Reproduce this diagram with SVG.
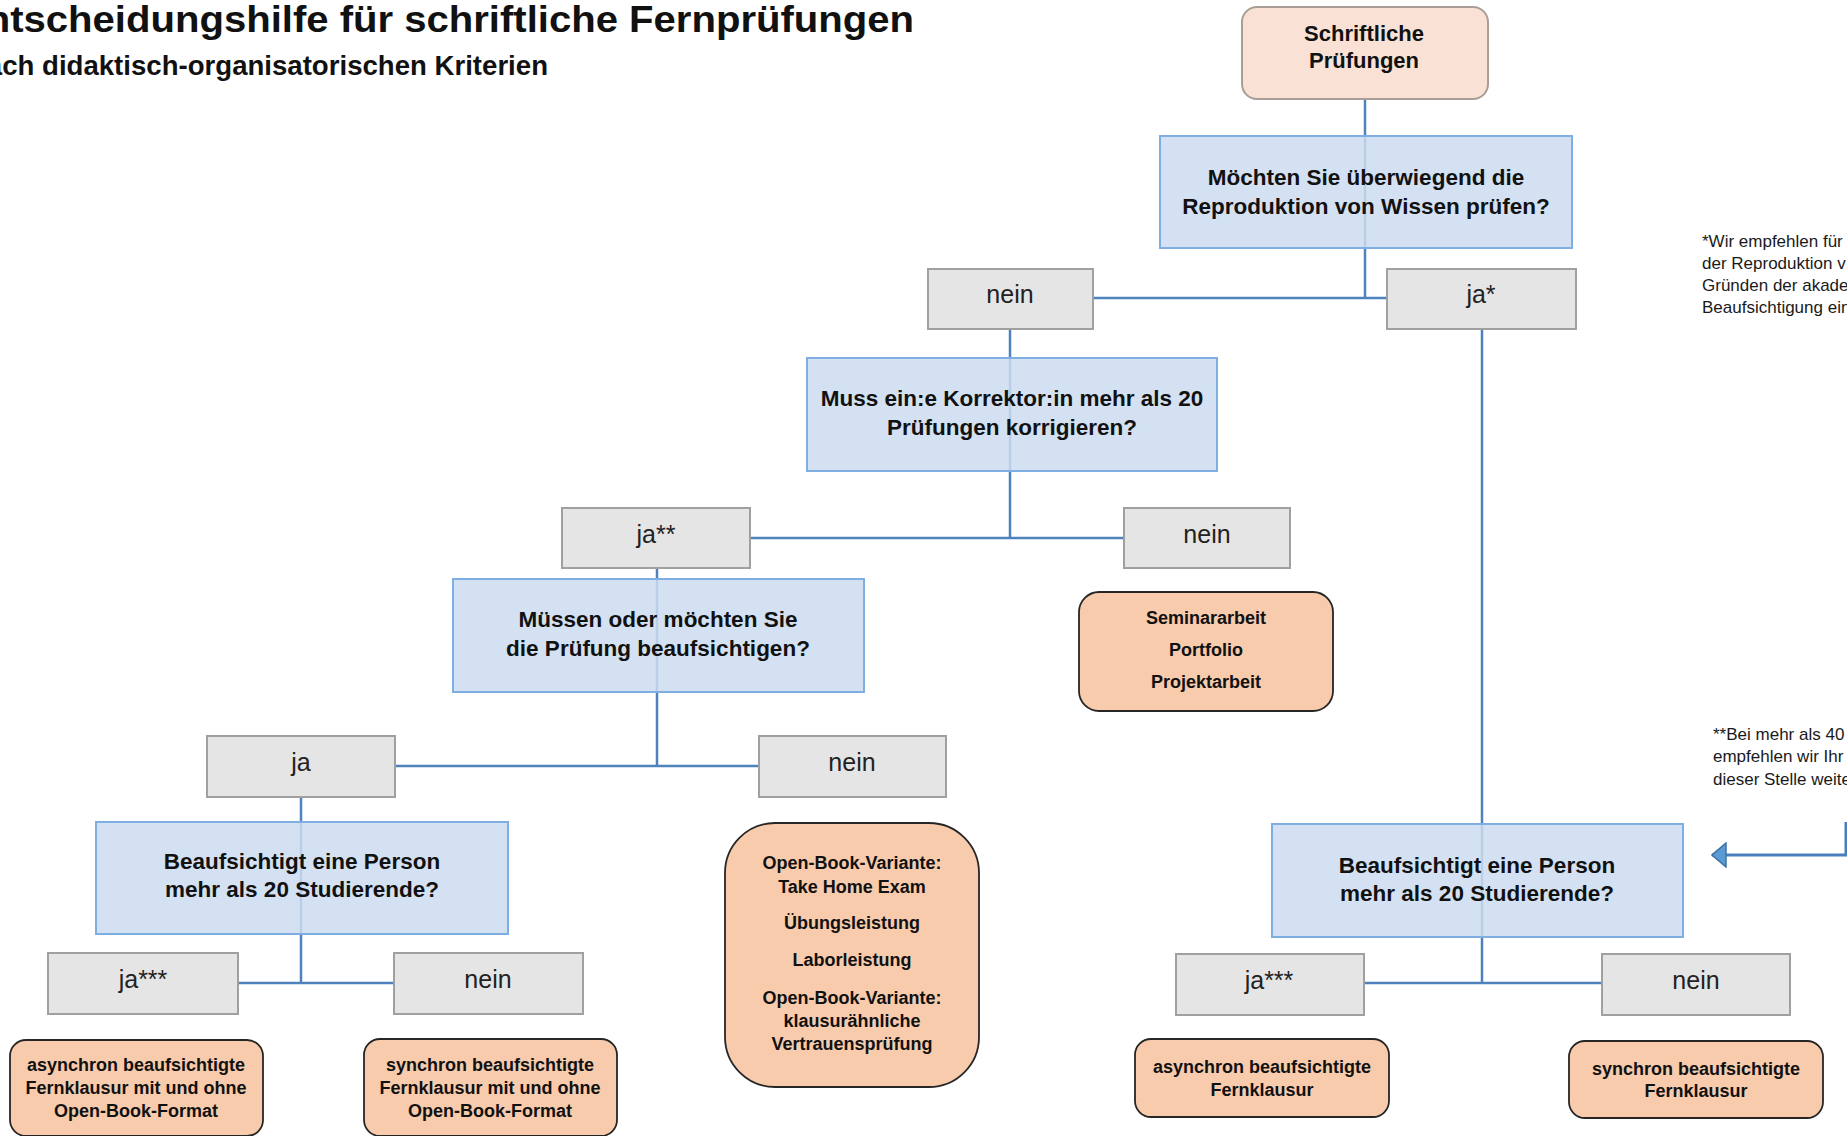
<svg xmlns="http://www.w3.org/2000/svg" width="1847" height="1136" viewBox="0 0 1847 1136">
<defs>
<style>
text{font-family:"Liberation Sans",Arial,sans-serif;fill:#111;}
.title{font-weight:bold;font-size:36px;}
.sub{font-weight:bold;font-size:27px;}
.q{fill:#cddcf0;fill-opacity:0.85;stroke:#7faee3;stroke-width:2;}
.qt{font-weight:bold;font-size:22.5px;text-anchor:middle;}
.a{fill:#e5e5e5;stroke:#a0a0a0;stroke-width:2;}
.at{font-size:25px;text-anchor:middle;fill:#222;}
.r{fill:#f8cbad;stroke:#262626;stroke-width:1.8;}
.rt{font-weight:bold;font-size:18px;text-anchor:middle;}
.start{fill:#f9e2d5;stroke:#a99d97;stroke-width:2;}
.st{font-weight:bold;font-size:22px;text-anchor:middle;}
.note{font-size:17px;fill:#1a1a1a;}
.c{fill:none;stroke:#4f82bd;stroke-width:2.5;}
</style>
<marker id="ah" viewBox="0 0 16 26" refX="15" refY="13" markerWidth="16" markerHeight="26" markerUnits="userSpaceOnUse" orient="auto">
<path d="M1,1 L15,13 L1,25 Z" fill="#5b9bd5" stroke="#41719c" stroke-width="1.5"/>
</marker>
</defs>

<g id="title">
<text class="title" x="-41" y="32" textLength="955" lengthAdjust="spacingAndGlyphs">Entscheidungshilfe für schriftliche Fernprüfungen</text>
<text class="sub" x="-30" y="75" textLength="578" lengthAdjust="spacingAndGlyphs">nach didaktisch-organisatorischen Kriterien</text>
</g>

<g id="connectors">
<path class="c" d="M1365,100 V298"/>
<path class="c" d="M1093,298 H1387"/>
<path class="c" d="M1010,329 V538"/>
<path class="c" d="M1482,329 V983"/>
<path class="c" d="M750,538 H1124"/>
<path class="c" d="M657,568 V766"/>
<path class="c" d="M395,766 H759"/>
<path class="c" d="M301,797 V983"/>
<path class="c" d="M238,983 H394"/>
<path class="c" d="M1364,983 H1602"/>
<path d="M1846,822 V855 H1712" fill="none" stroke="#4a7ebb" stroke-width="3" marker-end="url(#ah)"/>
</g>

<g id="start">
<rect class="start" x="1242" y="7" width="246" height="92" rx="15"/>
<text class="st" x="1364" y="41">Schriftliche</text>
<text class="st" x="1364" y="68">Prüfungen</text>
</g>

<g id="q1">
<rect class="q" x="1160" y="136" width="412" height="112"/>
<text class="qt" x="1366" y="185">Möchten Sie überwiegend die</text>
<text class="qt" x="1366" y="214">Reproduktion von Wissen prüfen?</text>
</g>

<g id="q1-nein">
<rect class="a" x="928" y="269" width="165" height="60"/>
<text class="at" x="1010" y="303">nein</text>
</g>
<g id="q1-ja">
<rect class="a" x="1387" y="269" width="189" height="60"/>
<text class="at" x="1481" y="303">ja*</text>
</g>

<g id="q2">
<rect class="q" x="807" y="358" width="410" height="113"/>
<text class="qt" x="1012" y="406">Muss ein:e Korrektor:in mehr als 20</text>
<text class="qt" x="1012" y="435">Prüfungen korrigieren?</text>
</g>

<g id="q2-ja">
<rect class="a" x="562" y="508" width="188" height="60"/>
<text class="at" x="656" y="543">ja**</text>
</g>
<g id="q2-nein">
<rect class="a" x="1124" y="508" width="166" height="60"/>
<text class="at" x="1207" y="543">nein</text>
</g>

<g id="r-seminar">
<rect class="r" x="1079" y="592" width="254" height="119" rx="20"/>
<text class="rt" x="1206" y="624">Seminararbeit</text>
<text class="rt" x="1206" y="656">Portfolio</text>
<text class="rt" x="1206" y="688">Projektarbeit</text>
</g>

<g id="q3">
<rect class="q" x="453" y="579" width="411" height="113"/>
<text class="qt" x="658" y="627">Müssen oder möchten Sie</text>
<text class="qt" x="658" y="656">die Prüfung beaufsichtigen?</text>
</g>

<g id="q3-ja">
<rect class="a" x="207" y="736" width="188" height="61"/>
<text class="at" x="301" y="771">ja</text>
</g>
<g id="q3-nein">
<rect class="a" x="759" y="736" width="187" height="61"/>
<text class="at" x="852" y="771">nein</text>
</g>

<g id="r-openbook">
<rect class="r" x="725" y="823" width="254" height="264" rx="50"/>
<text class="rt" x="852" y="869">Open-Book-Variante:</text>
<text class="rt" x="852" y="893">Take Home Exam</text>
<text class="rt" x="852" y="929">Übungsleistung</text>
<text class="rt" x="852" y="966">Laborleistung</text>
<text class="rt" x="852" y="1004">Open-Book-Variante:</text>
<text class="rt" x="852" y="1027">klausurähnliche</text>
<text class="rt" x="852" y="1050">Vertrauensprüfung</text>
</g>

<g id="q4">
<rect class="q" x="96" y="822" width="412" height="112"/>
<text class="qt" x="302" y="869">Beaufsichtigt eine Person</text>
<text class="qt" x="302" y="897">mehr als 20 Studierende?</text>
</g>

<g id="q4-ja">
<rect class="a" x="48" y="953" width="190" height="61"/>
<text class="at" x="143" y="988">ja***</text>
</g>
<g id="q4-nein">
<rect class="a" x="394" y="953" width="189" height="61"/>
<text class="at" x="488" y="988">nein</text>
</g>

<g id="r-async-left">
<rect class="r" x="10" y="1040" width="253" height="96" rx="16"/>
<text class="rt" x="136" y="1071">asynchron beaufsichtigte</text>
<text class="rt" x="136" y="1094">Fernklausur mit und ohne</text>
<text class="rt" x="136" y="1117">Open-Book-Format</text>
</g>
<g id="r-sync-left">
<rect class="r" x="364" y="1039" width="253" height="97" rx="16"/>
<text class="rt" x="490" y="1071">synchron beaufsichtigte</text>
<text class="rt" x="490" y="1094">Fernklausur mit und ohne</text>
<text class="rt" x="490" y="1117">Open-Book-Format</text>
</g>

<g id="q6">
<rect class="q" x="1272" y="824" width="411" height="113"/>
<text class="qt" x="1477" y="873">Beaufsichtigt eine Person</text>
<text class="qt" x="1477" y="901">mehr als 20 Studierende?</text>
</g>

<g id="q6-ja">
<rect class="a" x="1176" y="954" width="188" height="61"/>
<text class="at" x="1269" y="989">ja***</text>
</g>
<g id="q6-nein">
<rect class="a" x="1602" y="954" width="188" height="61"/>
<text class="at" x="1696" y="989">nein</text>
</g>

<g id="r-async-right">
<rect class="r" x="1135" y="1039" width="254" height="78" rx="16"/>
<text class="rt" x="1262" y="1073">asynchron beaufsichtigte</text>
<text class="rt" x="1262" y="1096">Fernklausur</text>
</g>
<g id="r-sync-right">
<rect class="r" x="1569" y="1041" width="254" height="77" rx="16"/>
<text class="rt" x="1696" y="1075">synchron beaufsichtigte</text>
<text class="rt" x="1696" y="1097">Fernklausur</text>
</g>

<g id="note1">
<text class="note" x="1702" y="247">*Wir empfehlen für</text>
<text class="note" x="1702" y="269">der Reproduktion v</text>
<text class="note" x="1702" y="291">Gründen der akade</text>
<text class="note" x="1702" y="313">Beaufsichtigung ein</text>
</g>
<g id="note2">
<text class="note" x="1713" y="740">**Bei mehr als 40</text>
<text class="note" x="1713" y="762">empfehlen wir Ihr</text>
<text class="note" x="1713" y="785">dieser Stelle weite</text>
</g>
</svg>
